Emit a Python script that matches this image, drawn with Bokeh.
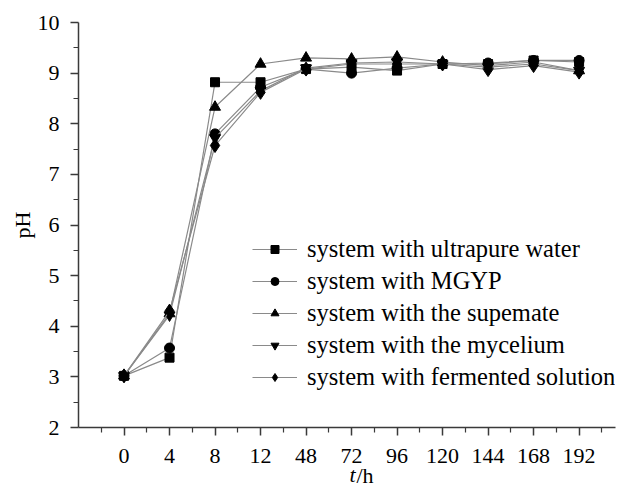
from bokeh.plotting import figure
from bokeh.models import FixedTicker, Legend, LegendItem, Title, Range1d
from bokeh.embed import file_html
from bokeh.resources import INLINE

times = ["0", "4", "8", "12", "48", "72", "96", "120", "144", "168", "192"]
ultrapure = [3.02, 3.38, 8.82, 8.82, 9.08, 9.12, 9.05, 9.18, 9.18, 9.25, 9.22]
mgyp = [3.02, 3.57, 7.80, 8.72, 9.08, 9.00, 9.10, 9.18, 9.20, 9.25, 9.25]
supernate = [3.02, 4.25, 8.33, 9.18, 9.30, 9.28, 9.32, 9.22, 9.15, 9.22, 9.05]
mycelium = [3.02, 4.22, 7.72, 8.65, 9.10, 9.20, 9.22, 9.18, 9.12, 9.18, 9.05]
fermented = [3.02, 4.30, 7.57, 8.62, 9.08, 9.18, 9.18, 9.18, 9.07, 9.15, 9.02]

labels = ["system with ultrapure water", "system with MGYP",
          "system with the supemate", "system with the mycelium",
          "system with fermented solution"]
series = [ultrapure, mgyp, supernate, mycelium, fermented]
markers = ["square", "circle", "triangle", "inverted_triangle", "diamond"]
sizes = [9, 10, 11, 11, 14]

FONT = "Liberation Serif"
AX = "#3a3a3a"

p = figure(width=617, height=486, output_backend="svg", toolbar_location=None,
           x_range=Range1d(-1, 10.8), y_range=Range1d(2, 10),
           min_border_left=78, min_border_right=2, min_border_top=22,
           min_border_bottom=59)
p.outline_line_color = None
p.xgrid.visible = False
p.ygrid.visible = False

xs = list(range(len(times)))
items = []
for lab, ys, mk, sz in zip(labels, series, markers, sizes):
    lr = p.line(xs, ys, line_color="#8a8a8a", line_width=1.2)
    sr = p.scatter(xs, ys, marker=mk, size=sz, fill_color="black",
                   line_color="black")
    items.append(LegendItem(label=lab, renderers=[lr, sr]))

legend = Legend(items=items, location=(174, 36), orientation="vertical",
                glyph_width=45, glyph_height=20, label_height=20, spacing=4,
                label_standoff=10, padding=0, margin=0,
                border_line_color=None, background_fill_alpha=0,
                label_text_font=FONT, label_text_font_size="24.5px",
                label_text_color="black")
p.add_layout(legend, "center")

for ax in (p.xaxis[0], p.yaxis[0]):
    ax.axis_line_color = AX
    ax.axis_line_width = 1.5
    ax.major_tick_line_color = AX
    ax.minor_tick_line_color = AX
    ax.major_tick_line_width = 1.5
    ax.minor_tick_line_width = 1.2
    ax.major_tick_in = 0
    ax.minor_tick_in = 0
    ax.major_tick_out = 8
    ax.minor_tick_out = 5
    ax.major_label_text_font = FONT
    ax.major_label_text_font_size = "22px"
    ax.major_label_text_color = "black"

p.xaxis.ticker = FixedTicker(ticks=xs,
                             minor_ticks=[i - 0.5 for i in range(len(times) + 1)])
p.xaxis.major_label_overrides = {i: t for i, t in enumerate(times)}
p.xaxis.major_label_standoff = 13

p.yaxis.ticker = FixedTicker(ticks=list(range(2, 11)),
                             minor_ticks=[v + 0.5 for v in range(2, 10)])
p.yaxis.major_label_standoff = 11
p.yaxis.axis_label = "pH"
p.yaxis.axis_label_text_font = FONT
p.yaxis.axis_label_text_font_size = "22px"
p.yaxis.axis_label_text_font_style = "normal"
p.yaxis.axis_label_text_color = "black"
p.yaxis.axis_label_standoff = 0

# x-axis label "t/h" with italic t, built from two titles sharing one row
t_title = Title(text="t", align="left", offset=271, standoff=-12,
                text_font=FONT, text_font_size="22px", text_font_style="italic",
                text_color="black")
h_title = Title(text="/h", align="left", offset=278, standoff=-36,
                vertical_align="top",
                text_font=FONT, text_font_size="22px", text_font_style="normal",
                text_color="black")
p.add_layout(t_title, "below")
p.add_layout(h_title, "below")

open("out.html", "w").write(file_html(p, INLINE))
